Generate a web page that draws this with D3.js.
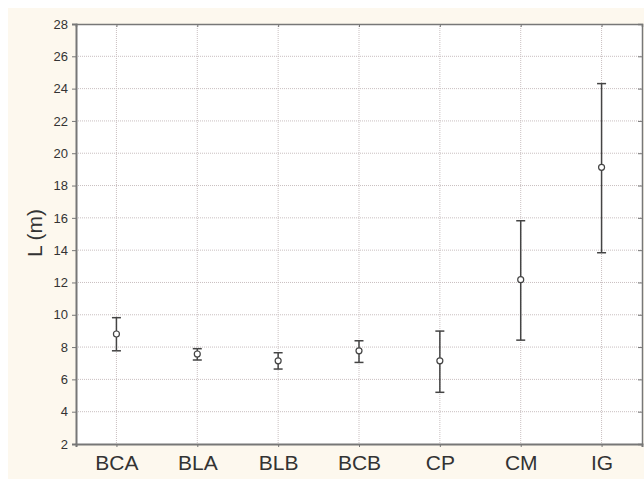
<!DOCTYPE html>
<html><head><meta charset="utf-8">
<script src="https://cdn.jsdelivr.net/npm/d3@7"></script>
<style>body{margin:0;background:#fff}svg{display:block}</style>
</head><body>
<script>
const categories = ["BCA","BLA","BLB","BCB","CP","CM","IG"];
const means = [8.81, 7.57, 7.15, 7.77, 7.15, 12.17, 19.13];
const upper = [9.82, 7.90, 7.65, 8.39, 8.99, 15.82, 24.31];
const lower = [7.77, 7.20, 6.64, 7.05, 5.20, 8.43, 13.84];
const yTicks = [2,4,6,8,10,12,14,16,18,20,22,24,26,28];
const yLabel = "L (m)";

const W = 644, H = 479;
const m = {left:76, right:2, top:24, bottom:35};
const svg = d3.select("body").append("svg").attr("width",W).attr("height",H);
svg.append("rect").attr("x",8).attr("y",8).attr("width",W-8).attr("height",H-8).attr("fill","#fdf8ee");
const pw = W - m.left - m.right, ph = H - m.top - m.bottom;
svg.append("rect").attr("x",m.left).attr("y",m.top).attr("width",pw).attr("height",ph).attr("fill","#fff");

const x = d3.scalePoint().domain(categories).range([m.left, m.left+pw]).padding(0.5);
const y = d3.scaleLinear().domain([2,28]).range([m.top+ph, m.top]);

const g = svg.append("g");
// grid
g.selectAll(".hg").data(yTicks.filter(d=>d>2&&d<28)).join("line")
 .attr("x1",m.left).attr("x2",m.left+pw).attr("y1",d=>y(d)).attr("y2",d=>y(d))
 .attr("stroke","#c9bfc0").attr("stroke-width",1).attr("stroke-dasharray","1,1");
g.selectAll(".vg").data(categories).join("line")
 .attr("x1",d=>x(d)).attr("x2",d=>x(d)).attr("y1",m.top).attr("y2",m.top+ph)
 .attr("stroke","#c9bfc0").attr("stroke-width",1).attr("stroke-dasharray","1,1");

const font = "Liberation Sans, Arial, Helvetica, sans-serif";
// axes
const axL = d3.axisLeft(y).tickValues(yTicks).tickSize(4).tickPadding(4);
const aL = svg.append("g").attr("transform",`translate(${m.left},0)`).call(axL);
aL.select(".domain").attr("stroke","#777").attr("stroke-width",2);
aL.selectAll(".tick line").attr("stroke","#777");
aL.selectAll("text").attr("font-family",font).attr("font-size",13).attr("fill","#333");

const axB = d3.axisBottom(x).tickSize(3).tickPadding(8);
const aB = svg.append("g").attr("transform",`translate(0,${m.top+ph})`).call(axB);
aB.select(".domain").attr("stroke","#777").attr("stroke-width",2);
aB.selectAll(".tick line").attr("stroke","#777");
aB.selectAll("text").attr("font-family",font).attr("font-size",21).attr("fill","#333");

const axT = d3.axisBottom(x).tickSize(3).tickFormat("");
const aT = svg.append("g").attr("transform",`translate(0,${m.top})`).call(axT);
aT.select(".domain").attr("stroke","#777").attr("stroke-width",1.5);
aT.selectAll(".tick line").attr("stroke","#777");

const axR = d3.axisLeft(y).tickValues(yTicks).tickSize(4).tickFormat("");
const aR = svg.append("g").attr("transform",`translate(${m.left+pw},0)`).call(axR);
aR.select(".domain").attr("stroke","#777").attr("stroke-width",1.5);
aR.selectAll(".tick line").attr("stroke","#777");

// y label
svg.append("text").attr("transform",`translate(42,233) rotate(-90)`)
 .attr("text-anchor","middle").attr("font-family",font)
 .attr("font-size",21).attr("fill","#333").text(yLabel);

// error bars
const data = categories.map((c,i)=>({c, m:means[i], u:upper[i], l:lower[i]}));
const eb = svg.append("g").attr("stroke","#444").attr("stroke-width",1.5);
eb.selectAll(".v").data(data).join("line")
 .attr("x1",d=>x(d.c)).attr("x2",d=>x(d.c)).attr("y1",d=>y(d.u)).attr("y2",d=>y(d.l));
eb.selectAll(".cu").data(data).join("line")
 .attr("x1",d=>x(d.c)-4.5).attr("x2",d=>x(d.c)+4.5).attr("y1",d=>y(d.u)).attr("y2",d=>y(d.u));
eb.selectAll(".cl").data(data).join("line")
 .attr("x1",d=>x(d.c)-4.5).attr("x2",d=>x(d.c)+4.5).attr("y1",d=>y(d.l)).attr("y2",d=>y(d.l));
svg.append("g").selectAll("circle").data(data).join("circle")
 .attr("cx",d=>x(d.c)).attr("cy",d=>y(d.m)).attr("r",3)
 .attr("fill","#fff").attr("stroke","#444").attr("stroke-width",1.2);
</script>
</body></html>
